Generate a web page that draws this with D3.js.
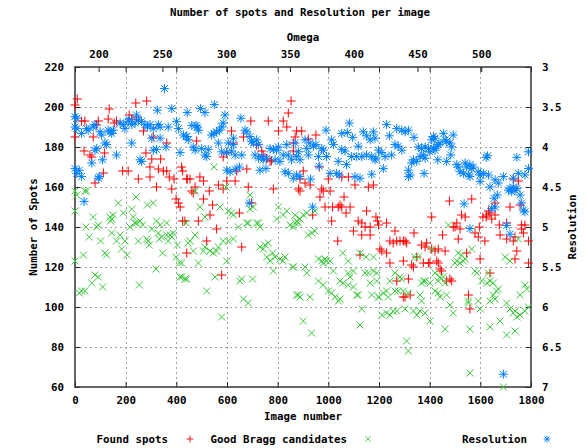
<!DOCTYPE html>
<html>
<head>
<meta charset="utf-8">
<script src="https://cdn.jsdelivr.net/npm/d3@7"></script>
<style>
  body { margin: 0; background: #fff; }
  text { font-family: 'DejaVu Sans Mono', monospace; font-weight: bold; font-size: 10.8px; fill: #000; }
</style>
</head>
<body>
<svg id="chart" width="587" height="448"></svg>
<script>
// [image number, number of spots]
const foundSpots = [
  [9,204],[0,201],[135,199],[240,202],[283,203],[26,193],[39,193],[92,193],[85,191],[131,194],[164,193],[155,192],
  [214,196],[224,194],[243,195],[270,188],[309,185],[0,185],[72,185],[36,178],[116,177],[59,176],[66,175],[280,177],
  [303,174],[338,174],[362,182],[188,168],[210,168],[296,170],[329,169],[349,168],[362,168],[322,160],[296,165],
  [250,164],[112,167],[79,162],[372,165],[391,164],[425,168],[443,164],[382,159],[399,154],[408,152],[415,150],
  [425,143],[434,143],
  [441,127],[559,139],[520,133],[658,130],[579,116],[487,143],
  [853,203],[842,197],[822,193],[836,190],[803,188],[763,193],[694,193],[618,188],[665,185],[875,188],[869,185],
  [480,183],[625,182],[717,181],[737,178],[743,176],[757,174],[770,173],[776,173],[599,177],[585,175],[862,178],
  [421,170],[678,169],[638,168],[441,164],[454,164],[493,165],[507,163],[599,163],[632,163],[474,160],[566,161],
  [684,160],[461,158],[467,157],[530,158],[585,159],[783,159],[507,154],[697,152],[543,151],[533,146],[649,147],
  [895,188],[951,186],[921,184],[862,182],[901,168],[964,170],[888,164],[908,162],[928,161],[882,159],[888,158],
  [1000,164],[1053,165],[1079,165],[1105,161],[1158,160],[1178,161],[974,159],[980,158],[1007,158],[967,155],
  [1062,155],[987,150],[1017,150],[1039,150],[1053,150],[1086,150],[1046,151],[938,146],[1070,147],[1151,148],
  [1013,143],[1118,143],[1132,142],[1145,140],[1165,140],[1188,145],[1194,143],[1198,141],[1230,142],
  [1099,138],[1132,136],[1165,136],[1037,133],[1263,138],[1125,126],[1204,129],[1211,128],[1230,127],[1243,133],
  [1256,132],[1270,133],[1283,133],[1296,133],[1309,132],[1243,122],[1270,113],[1303,105],[1316,114],
  [1730,164],[1750,163],[1566,154],[1478,153],[1717,150],[1757,151],[1658,152],[1632,148],[1638,147],[1625,146],
  [1658,146],[1645,144],[1526,146],[1540,145],[1610,145],[1623,145],[1408,145],[1507,142],[1493,140],[1520,139],
  [1596,140],[1675,141],[1763,141],[1776,141],
  [1500,140],[1704,142],[1763,139],[1338,137],[1451,136],[1513,134],[1579,137],[1592,135],[1618,133],[1678,136],
  [1704,134],[1730,133],[1737,135],[1790,133],[1770,137],[1303,133],[1368,131],[1382,130],[1388,132],[1408,129],
  [1421,128],[1434,129],[1461,128],[1296,123],[1349,125],[1329,121],[1336,120],[1375,122],[1395,122],[1401,122],
  [1428,123],[1434,122],[1441,119],[1447,118],[1546,127],[1599,124],[1638,117],[1744,128],[1737,124],[1790,122],
  [1467,113],[1480,114],[1487,113],[1296,105],[1323,106],[1553,106],[1559,99]
];

// [image number, good Bragg candidates]
const braggCandidates = [
  [0,158],[7,156],[46,158],[39,158],[0,148],[241,155],[286,151],[309,152],[171,152],[72,145],[138,145],[151,146],
  [145,144],[191,147],[224,149],[230,145],[243,142],[257,143],[267,141],[322,143],[336,141],[43,140],[92,141],
  [362,142],[217,140],
  [86,140],[141,143],[145,137],[237,142],[178,136],[164,133],[56,135],[101,133],[197,133],[250,133],[283,134],
  [289,133],[293,131],[303,139],[329,137],[333,134],[342,135],[362,136],[375,136],[388,137],[368,133],[382,135],
  [404,131],[447,132],[33,126],[118,127],[125,126],[184,129],[206,126],[346,127],[399,125],[412,122],[0,123],
  [320,119],[415,115],[434,114],[79,116],[92,115],[66,112],[109,110],[254,111],[39,108],[26,108],[17,107],
  [717,142],[730,140],[678,142],[645,140],[849,141],[862,140],[474,136],[454,133],[625,134],[605,133],[585,133],
  [513,130],[507,128],[533,128],[546,127],[559,128],[566,130],[467,128],[730,130],[750,131],[763,132],[743,129],
  [780,127],[757,125],[770,123],[790,125],[809,124],[829,125],[820,123],[783,118],[859,120],[487,122],[599,123],
  [421,122],[421,115],[441,114],[553,115],[651,113],[658,114],[701,114],[520,108],[665,104],[684,102],[579,95],
  [875,106],
  [549,170],[596,160],[691,156],[691,149],[704,150],[493,150],[572,150],[605,148],[618,147],[625,146],[513,145],
  [803,150],[836,148],[822,146],[796,144],[869,146],[875,143],[882,142],[474,158],[438,142],[684,142],[724,142],
  [888,144],[901,146],[915,147],[947,148],
  [869,142],[921,136],[934,137],[947,138],[862,120],[908,120],[915,117],[961,124],[974,123],[980,122],[987,124],
  [993,123],[1007,123],[1020,118],[1057,127],[1079,123],[1125,127],[1149,125],[1178,125],[1079,117],[1099,118],
  [1086,115],[1145,117],[1158,117],[1178,118],[1191,117],[961,113],[980,111],[1046,113],[1059,112],[1079,111],
  [1099,110],[1165,112],[1191,113],[1000,108],[1013,107],[1027,105],[1040,103],[1046,104],[1112,106],[1118,106],
  [1171,106],[1201,105],[1217,107],[1230,108],[1237,105],[882,106],[888,105],[928,105],[1263,108],[1276,108],
  [1296,108],[1316,107],[1263,117],[1283,115],[1243,113],[1289,114],[1198,105],[1211,96],[1230,97],[1243,96],
  [1256,98],[1270,98],[1303,99],[1132,99],[901,93],[934,87],[1125,91],[1309,83],[1316,78],
  [1474,141],[1750,134],[1566,129],[1342,125],[1355,125],[1408,129],[1513,127],[1526,126],[1507,123],[1520,122],
  [1533,123],[1540,124],[1500,122],[1698,125],[1717,123],[1579,118],[1586,117],[1632,117],[1421,117],[1441,115],
  [1454,115],[1434,113],[1461,112],[1375,113],[1382,113],[1401,112],[1368,112],[1362,106],[1368,103],[1421,108],
  [1434,107],[1441,105],[1467,106],[1605,113],[1625,112],[1638,113],[1651,112],[1664,108],[1671,109],[1651,106],
  [1638,103],[1658,104],[1776,111],[1783,109],[1757,106],[1553,103],[1592,103],[1599,99],[1553,102],[1336,98],
  [1349,96],[1362,98],[1401,93],[1382,97],[1480,101],[1493,97],[1704,102],[1717,99],[1730,97],[1744,95],
  [1757,96],[1776,98],[1790,100],[1737,98],[1678,93],[1704,86],[1737,88],[1638,90],[1559,89],[1461,89],
  [1559,67],[1691,60]
];

// [image number, resolution]
const resolution = [
  [353,3.27],[325,3.54],[382,3.52],[443,3.57],[243,3.6],[214,3.66],[0,3.62],[7,3.64],[0,3.75],[7,3.77],[26,3.83],
  [46,3.77],[52,3.79],[72,3.75],[79,3.72],[99,3.81],[105,3.85],[131,3.79],[138,3.81],[151,3.79],[145,3.83],
  [178,3.7],[191,3.72],[197,3.77],[210,3.68],[224,3.72],[237,3.7],[250,3.66],[263,3.68],[276,3.72],[286,3.75],
  [296,3.72],[309,3.77],[329,3.72],[336,3.75],[368,3.75],[401,3.68],[408,3.77],[428,3.85],[441,3.87],[303,3.89],
  [336,3.89],[359,4.0],[309,4.04],[224,3.95],[86,4.02],[79,4.04],[118,3.95],[125,3.97],[164,4.1],[322,4.03],
  [415,4.07],[109,4.16],[257,4.16],[263,4.18],[66,4.2],[0,4.27],[17,4.29],[7,4.33],[26,4.37],[96,4.37],[92,4.39],
  [36,4.68],
  [550,3.47],[496,3.52],[513,3.57],[592,3.6],[655,3.64],[461,3.73],[478,3.73],[487,3.79],[483,3.75],[438,3.87],
  [447,3.91],[539,3.85],[549,3.83],[559,3.81],[570,3.79],[579,3.75],[585,3.7],[625,3.89],[671,3.79],[678,3.81],
  [691,3.87],[697,3.93],[704,3.95],[717,3.91],[724,3.97],[566,3.95],[605,3.95],[625,3.97],[467,4.0],[474,4.04],
  [500,4.02],[526,4.03],[513,4.1],[520,4.12],[579,4.06],[599,4.07],[618,4.05],[632,4.1],[658,4.1],[711,4.1],
  [724,4.14],[737,4.12],[743,4.16],[757,4.14],[770,4.02],[783,4.03],[796,4.04],[803,4.0],[790,4.16],[809,4.18],
  [822,4.1],[836,3.97],[842,4.1],[855,4.16],[869,3.95],[882,4.06],[599,4.29],[612,4.31],[632,4.28],[649,4.25],
  [730,4.29],[754,4.27],[829,4.31],[842,4.33],[862,4.39],[875,4.35],[688,4.7],
  [1083,3.7],[1053,3.83],[1075,3.82],[1096,3.88],[991,3.79],[1013,3.91],[1020,3.97],[1138,3.81],[1151,3.86],
  [1165,3.91],[1178,3.81],[1184,3.89],[1118,3.99],[1053,4.03],[1066,4.05],[1230,3.72],[1241,3.86],[1270,3.77],
  [1290,3.79],[1303,3.81],[1316,3.79],[1263,3.97],[1276,3.99],[1198,4.04],[1211,4.07],[1224,4.12],[1250,4.1],
  [1188,4.14],[908,3.91],[915,4.02],[928,3.95],[941,3.99],[951,3.97],[974,4.02],[980,4.04],[961,4.12],[993,4.12],
  [875,4.12],[888,4.16],[921,4.1],[1039,4.18],[1072,4.22],[1092,4.12],[1112,4.12],[1132,4.12],[1151,4.1],
  [1171,4.12],[1184,4.16],[1217,4.27],[1007,4.33],[1033,4.33],[1043,4.35],[964,4.24],[1105,4.37],[1125,4.39],
  [1171,4.34],[888,4.37],[930,4.4],[1316,4.29],[1316,4.37],[938,4.75],
  [1338,3.88],[1415,3.87],[1421,3.89],[1408,3.91],[1454,3.83],[1461,3.91],[1467,3.93],[1480,3.95],[1493,3.85],
  [1441,3.95],[1434,3.97],[1428,3.99],[1290,4.04],[1355,4.0],[1368,4.02],[1382,4.0],[1395,4.02],[1401,4.06],
  [1375,4.1],[1382,4.14],[1362,4.12],[1415,4.02],[1421,4.04],[1487,4.0],[1336,4.16],[1349,4.18],[1329,4.2],
  [1432,4.16],[1467,4.18],[1483,4.1],[1623,4.13],[1628,4.11],[1744,4.13],[1790,4.06],[1323,4.35],[1378,4.33],
  [1507,4.22],[1513,4.25],[1540,4.2],[1546,4.25],[1559,4.22],[1566,4.27],[1572,4.25],[1533,4.33],[1553,4.35],
  [1559,4.37],[1520,4.31],[1592,4.31],[1599,4.35],[1612,4.33],[1632,4.35],[1599,4.43],[1638,4.5],[1658,4.41],
  [1671,4.45],[1691,4.37],[1711,4.54],[1724,4.56],[1737,4.54],[1717,4.52],[1730,4.5],[1744,4.52],[1730,4.39],
  [1750,4.33],[1776,4.35],[1790,4.27],[1757,4.6],[1763,4.7],[1770,4.79],[1776,4.81],[1667,4.6],[1654,4.64],
  [1658,4.75],[1645,4.77],[1536,4.71],[1704,4.98],[1559,5.02],[1717,5.09],[1691,6.84]
];

const imageTicks = [0, 200, 400, 600, 800, 1000, 1200, 1400, 1600, 1800];
const omegaTicks = [200, 250, 300, 350, 400, 450, 500];
const spotTicks = [60, 80, 100, 120, 140, 160, 180, 200, 220];
const resTicks = [3, 3.5, 4, 4.5, 5, 5.5, 6, 6.5, 7];

const svg = d3.select('#chart');
const plotLeft = 75, plotRight = 531, plotTop = 67, plotBottom = 387;

const x = d3.scaleLinear().domain([0, 1800]).range([plotLeft, plotRight]);
const xOmega = d3.scaleLinear().domain([181.5, 539]).range([plotLeft, plotRight]);
const y = d3.scaleLinear().domain([60, 220]).range([plotBottom, plotTop]);
const yRes = d3.scaleLinear().domain([3, 7]).range([plotTop, plotBottom]);

// grid
const grid = svg.append('g')
    .attr('stroke', '#a0a0a0')
    .attr('stroke-width', 1)
    .attr('stroke-dasharray', '2,3');
grid.selectAll('.vg')
    .data(imageTicks.slice(1, -1))
    .enter().append('line')
    .attr('x1', d => Math.round(x(d)) + 0.5).attr('x2', d => Math.round(x(d)) + 0.5)
    .attr('y1', plotTop).attr('y2', plotBottom);
grid.selectAll('.hg')
    .data(spotTicks.slice(1, -1))
    .enter().append('line')
    .attr('x1', plotLeft).attr('x2', plotRight)
    .attr('y1', d => Math.round(y(d)) + 0.5).attr('y2', d => Math.round(y(d)) + 0.5);

// axes, ticks point inward
function styleAxis(g) {
    g.select('.domain').remove();
    g.selectAll('.tick line').attr('stroke', '#222');
    g.selectAll('.tick text').attr('fill', '#000');
    g.attr('font-family', null).attr('font-size', null);
}

const plain = d3.format('');

svg.append('g')
    .attr('transform', `translate(0,${plotBottom})`)
    .call(d3.axisBottom(x).tickValues(imageTicks).tickSize(-5).tickPadding(9).tickFormat(plain))
    .call(styleAxis);

svg.append('g')
    .attr('transform', `translate(0,${plotTop})`)
    .call(d3.axisTop(x).tickValues(imageTicks).tickSize(-5).tickFormat(''))
    .call(styleAxis);

svg.append('g')
    .attr('transform', `translate(0,${plotTop})`)
    .call(d3.axisTop(xOmega).tickValues(omegaTicks).tickSize(-5).tickPadding(9).tickFormat(plain))
    .call(styleAxis);

svg.append('g')
    .attr('transform', `translate(${plotLeft},0)`)
    .call(d3.axisLeft(y).tickValues(spotTicks).tickSize(-5).tickPadding(11).tickFormat(plain))
    .call(styleAxis);

svg.append('g')
    .attr('transform', `translate(${plotRight},0)`)
    .call(d3.axisRight(yRes).tickValues(resTicks).tickSize(-5).tickPadding(11).tickFormat(plain))
    .call(styleAxis);

// border
svg.append('rect')
    .attr('x', plotLeft).attr('y', plotTop)
    .attr('width', plotRight - plotLeft).attr('height', plotBottom - plotTop)
    .attr('fill', 'none')
    .attr('stroke', '#333')
    .attr('stroke-width', 1.5);

// markers
const plusPath = 'M-4.5,0H4.5M0,-4.5V4.5';
const crossPath = 'M-3.5,-3.5L3.5,3.5M-3.5,3.5L3.5,-3.5';
const starPath = plusPath + crossPath;
const red = '#ff0000', green = '#3cc83c', blue = '#0080ff';

function drawPoints(data, yScale, path, color) {
    svg.append('g')
        .selectAll('path')
        .data(data)
        .enter().append('path')
        .attr('transform', d => `translate(${x(d[0])},${yScale(d[1])})`)
        .attr('d', path)
        .attr('fill', 'none')
        .attr('stroke', color)
        .attr('stroke-width', 1);
}

drawPoints(foundSpots, y, plusPath, red);
drawPoints(braggCandidates, y, crossPath, green);
drawPoints(resolution, yRes, starPath, blue);

// titles
svg.append('text')
    .attr('x', 300).attr('y', 16)
    .attr('text-anchor', 'middle')
    .text('Number of spots and Resolution per image');

svg.append('text')
    .attr('x', 303).attr('y', 41)
    .attr('text-anchor', 'middle')
    .text('Omega');

svg.append('text')
    .attr('x', 303).attr('y', 420)
    .attr('text-anchor', 'middle')
    .text('Image number');

svg.append('text')
    .attr('transform', 'translate(37,227) rotate(-90)')
    .attr('text-anchor', 'middle')
    .text('Number of Spots');

svg.append('text')
    .attr('transform', 'translate(576,227) rotate(-90)')
    .attr('text-anchor', 'middle')
    .text('Resolution');

// legend (smaller sample symbols)
const legend = [
    { label: 'Found spots', path: plusPath, color: red, textX: 168, markX: 190 },
    { label: 'Good Bragg candidates', path: crossPath, color: green, textX: 347, markX: 368 },
    { label: 'Resolution', path: starPath, color: blue, textX: 527, markX: 547 }
];
const lg = svg.append('g');
legend.forEach(item => {
    lg.append('text')
        .attr('x', item.textX).attr('y', 443)
        .attr('text-anchor', 'end')
        .text(item.label);
    lg.append('path')
        .attr('transform', `translate(${item.markX},439) scale(0.75)`)
        .attr('d', item.path)
        .attr('fill', 'none')
        .attr('stroke', item.color)
        .attr('stroke-width', 1.2);
});
</script>
</body>
</html>
